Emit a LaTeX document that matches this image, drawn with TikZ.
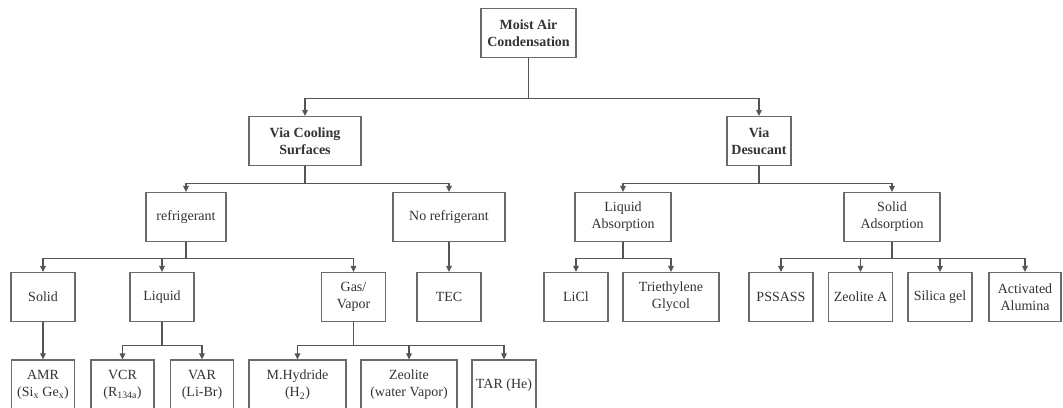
\documentclass[tikz,border=0pt]{standalone}
\usepackage{fontspec}
\setmainfont{Liberation Serif}
\usetikzlibrary{arrows.meta}
\definecolor{boxline}{HTML}{6A6A6A}
\definecolor{conn}{HTML}{555555}
\definecolor{txt}{HTML}{333333}
\begin{document}
\begin{tikzpicture}[x=1pt,y=-1pt,
  box/.style={draw=boxline,line width=1.1pt,fill=white,inner sep=0pt,align=center,
    minimum height=49pt,text=txt,font=\fontsize{14}{17}\selectfont},
  bbox/.style={box,font=\fontsize{14}{17.5}\selectfont\bfseries},
  arr/.style={draw=conn,line width=1.1pt,-{Triangle[width=5.5pt,length=6pt]}},
  ln/.style={draw=conn,line width=1.1pt}]
\path[use as bounding box] (0,0) rectangle (1063,407);
\clip (0,0) rectangle (1063,407);
% level 0
\node[bbox,minimum width=95pt] (top) at (528.5,33) {Moist Air\\Condensation};
% level 1
\node[bbox,minimum width=112pt] (vcs) at (305,141) {Via Cooling\\Surfaces};
\node[bbox,minimum width=64pt] (vd) at (759,141) {Via\\Desucant};
% level 2
\node[box,minimum width=80pt] (refr) at (186,217) {refrigerant};
\node[box,minimum width=112pt] (noref) at (449,217) {No refrigerant};
\node[box,minimum width=96pt] (liqabs) at (623,217) {Liquid\\Absorption};
\node[box,minimum width=96pt] (solads) at (892,217) {Solid\\Adsorption};
% level 3
\node[box,minimum width=64pt] (solid) at (43,297) {Solid};
\node[box,minimum width=64pt] (liquid) at (162,297) {Liquid};
\node[box,minimum width=64pt] (gas) at (353.5,297) {Gas/\\Vapor};
\node[box,minimum width=64pt] (tec) at (449,297) {TEC};
\node[box,minimum width=64pt] (licl) at (576,297) {LiCl};
\node[box,minimum width=96pt] (trie) at (671,297) {Triethylene\\Glycol};
\node[box,minimum width=64pt] (pss) at (781,297) {PSSASS};
\node[box,minimum width=64pt] (zeoa) at (860.5,297) {Zeolite A};
\node[box,minimum width=64pt] (sil) at (940,297) {Silica gel};
\node[box,minimum width=72pt] (act) at (1025,297) {Activated\\Alumina};
% level 4
\node[box,minimum width=63pt,minimum height=50pt] (amr) at (43,385) {AMR\\(Si\textsubscript{x} Ge\textsubscript{x})};
\node[box,minimum width=63pt,minimum height=50pt] (vcr) at (122.5,385) {VCR\\(R\textsubscript{134a})};
\node[box,minimum width=63pt,minimum height=50pt] (var) at (202,385) {VAR\\(Li-Br)};
\node[box,minimum width=97pt,minimum height=50pt] (mh) at (297.5,385) {M.Hydride\\(H\textsubscript{2})};
\node[box,minimum width=96pt,minimum height=50pt] (zeo) at (409,385) {Zeolite\\(water Vapor)};
\node[box,minimum width=64pt,minimum height=50pt] (tar) at (504,385) {TAR (He)};
% connectors
\draw[arr] (top.south) -- ++(0,40) -| (vcs.north);
\draw[arr] (top.south) -- ++(0,40) -| (vd.north);
\draw[arr] (vcs.south) -- ++(0,17) -| (refr.north);
\draw[arr] (vcs.south) -- ++(0,17) -| (noref.north);
\draw[arr] (vd.south) -- ++(0,17) -| (liqabs.north);
\draw[arr] (vd.south) -- ++(0,17) -| (solads.north);
\draw[arr] (refr.south) -- ++(0,16) -| (solid.north);
\draw[arr] (refr.south) -- ++(0,16) -| (liquid.north);
\draw[arr] (refr.south) -- ++(0,16) -| (gas.north);
\draw[arr] (noref.south) -- (tec.north);
\draw[arr] (liqabs.south) -- ++(0,16) -| (licl.north);
\draw[arr] (liqabs.south) -- ++(0,16) -| (trie.north);
\draw[arr] (solads.south) -- ++(0,16) -| (pss.north);
\draw[arr] (solads.south) -- ++(0,16) -| (zeoa.north);
\draw[arr] (solads.south) -- ++(0,16) -| (sil.north);
\draw[arr] (solads.south) -- ++(0,16) -| (act.north);
\draw[arr] (solid.south) -- (amr.north);
\draw[arr] (liquid.south) -- ++(0,23) -| (vcr.north);
\draw[arr] (liquid.south) -- ++(0,23) -| (var.north);
\draw[arr] (gas.south) -- ++(0,23) -| (mh.north);
\draw[arr] (gas.south) -- ++(0,23) -| (zeo.north);
\draw[arr] (gas.south) -- ++(0,23) -| (tar.north);
\end{tikzpicture}
\end{document}
